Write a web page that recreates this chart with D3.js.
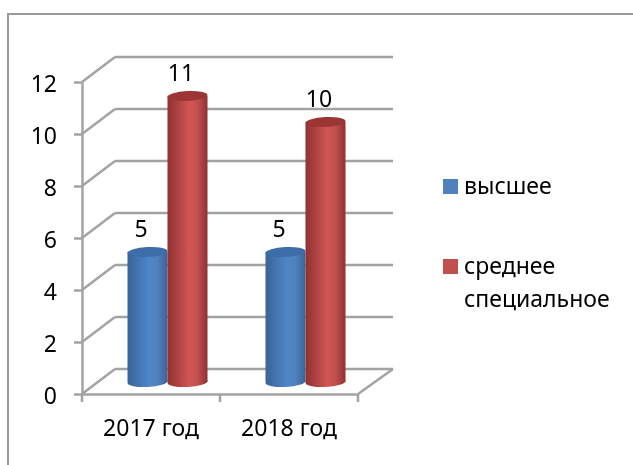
<!DOCTYPE html>
<html>
<head>
  <meta charset="utf-8"/>
  <title>Chart</title>
  <style type="text/css">
    html, body { margin: 0; background: #fff; }
    svg { display: block; filter: blur(0.4px); }
    text { font-family: "Noto Sans", sans-serif; font-size: 23px; fill: #000; }
    .grid { stroke: #a3a3a3; stroke-width: 2.5; fill: none; }
    .axis path, .axis line { stroke: #a3a3a3; stroke-width: 2.5; }
  </style>
</head>
<body>
<svg id="vis" width="633" height="465"></svg>

<script src="https://cdnjs.cloudflare.com/ajax/libs/d3/7.8.5/d3.min.js"></script>
<script type="text/javascript">
  var categories = ['2017 год', '2018 год']
  var seriesNames = ['высшее', 'среднее специальное']
  var vysshee = [5, 5]
  var srednee = [11, 10]
  var yTicks = [0, 2, 4, 6, 8, 10, 12]

  var seriesValues = [vysshee, srednee]
  var colors = [
    { top: '#3d6ea9', edge: '#3a6398', mid: '#4f86c8', flat: '#4f81bd' },
    { top: '#9c3534', edge: '#8f3130', mid: '#cf5755', flat: '#c0504d' }
  ]

  var svg = d3.select('#vis')

  // frame: only left and top edges are visible in the picture
  svg.append('path')
    .attr('d', 'M8,465V14H633')
    .attr('fill', 'none')
    .attr('stroke', '#9a9a9a')
    .attr('stroke-width', 2)

  // the 3d box: front plane and back wall are offset by this much
  var depthX = 33, depthY = -25
  var plot = { left: 82, right: 358, bottom: 394, top: 82, wallRight: 393 }

  var x = d3.scaleBand().domain(categories).range([plot.left, plot.right])
  var y = d3.scaleLinear().domain([0, 12]).range([plot.bottom, plot.top])
  var inner = d3.scaleBand().domain(d3.range(seriesNames.length)).range([0, 80])

  // the cylinders stand in the middle of the floor depth
  var barY = d3.scaleLinear().domain([0, 12]).range([382, 70])
  var barShift = depthX / 2

  var grid = svg.append('g')
  grid.selectAll('.wall').data(yTicks).join('line')
    .attr('class', 'grid wall')
    .attr('x1', plot.left + depthX)
    .attr('x2', plot.wallRight)
    .attr('y1', function(d) { return y(d) + depthY })
    .attr('y2', function(d) { return y(d) + depthY })
  grid.selectAll('.side').data(yTicks).join('line')
    .attr('class', 'grid side')
    .attr('x1', plot.left)
    .attr('x2', plot.left + depthX)
    .attr('y1', function(d) { return y(d) })
    .attr('y2', function(d) { return y(d) + depthY })
  grid.append('line')
    .attr('class', 'grid')
    .attr('x1', plot.right)
    .attr('x2', plot.wallRight)
    .attr('y1', plot.bottom)
    .attr('y2', plot.bottom + depthY)

  // axes
  var yAxis = svg.append('g')
    .attr('class', 'axis')
    .attr('transform', 'translate(' + plot.left + ',0)')
    .call(d3.axisLeft(y).tickValues(yTicks).tickSize(8).tickSizeOuter(0).tickPadding(17))
  yAxis.selectAll('text').attr('y', 2)

  var xAxis = svg.append('g')
    .attr('class', 'axis')
    .attr('transform', 'translate(0,' + plot.bottom + ')')
    .call(d3.axisBottom(x).tickSize(0).tickPadding(26))
  xAxis.selectAll('.edge').data([plot.left, x(categories[1]), plot.right]).join('line')
    .attr('class', 'edge')
    .attr('x1', function(d) { return d })
    .attr('x2', function(d) { return d })
    .attr('y1', 0)
    .attr('y2', 8)

  svg.selectAll('.axis text').attr('fill', null)

  // horizontal shading for the cylinders
  var defs = svg.append('defs')
  colors.forEach(function(c, i) {
    var g = defs.append('linearGradient').attr('id', 'shade' + i)
    g.append('stop').attr('offset', '0%').attr('stop-color', c.edge)
    g.append('stop').attr('offset', '55%').attr('stop-color', c.mid)
    g.append('stop').attr('offset', '75%').attr('stop-color', c.flat)
    g.append('stop').attr('offset', '100%').attr('stop-color', c.edge)
  })

  var ry = 5
  var tilt = -3
  seriesValues.forEach(function(values, s) {
    var w = inner.bandwidth()
    var bars = svg.append('g').selectAll('g').data(values).join('g')
      .attr('transform', function(d, i) {
        return 'translate(' + (x(categories[i]) + (x.bandwidth() - 80) / 2 + barShift + inner(s)) + ',0)'
      })
    bars.append('ellipse')
      .attr('cx', w / 2)
      .attr('cy', barY(0))
      .attr('rx', w / 2)
      .attr('ry', ry)
      .attr('transform', 'rotate(' + tilt + ' ' + w / 2 + ' ' + barY(0) + ')')
      .attr('fill', 'url(#shade' + s + ')')
    bars.append('rect')
      .attr('width', w)
      .attr('y', function(d) { return barY(d) })
      .attr('height', function(d) { return barY(0) - barY(d) })
      .attr('fill', 'url(#shade' + s + ')')
    bars.append('ellipse')
      .attr('cx', w / 2)
      .attr('cy', function(d) { return barY(d) })
      .attr('rx', w / 2)
      .attr('ry', ry)
      .attr('transform', function(d) { return 'rotate(' + tilt + ' ' + w / 2 + ' ' + barY(d) + ')' })
      .attr('fill', colors[s].top)
    bars.append('text')
      .attr('x', w / 2 - 6.5)
      .attr('y', function(d) { return barY(d) - 23 })
      .attr('dy', '0.35em')
      .attr('text-anchor', 'middle')
      .text(function(d) { return d })
  })

  // legend
  var legend = svg.append('g')
  var legendY = d3.scaleOrdinal().domain(seriesNames).range([179, 259])
  legend.selectAll('rect').data(seriesNames).join('rect')
    .attr('x', 443)
    .attr('y', function(d) { return legendY(d) })
    .attr('width', 15)
    .attr('height', 15)
    .attr('fill', function(d, i) { return colors[i].flat })
  legend.selectAll('text').data(seriesNames).join('text')
    .attr('y', function(d) { return legendY(d) + 15 })
    .each(function(d) {
      var t = d3.select(this)
      d.split(' ').forEach(function(word, i) {
        t.append('tspan')
          .attr('x', 464)
          .attr('dy', i ? 33 : 0)
          .text(word)
      })
    })
</script>
</body>
</html>
